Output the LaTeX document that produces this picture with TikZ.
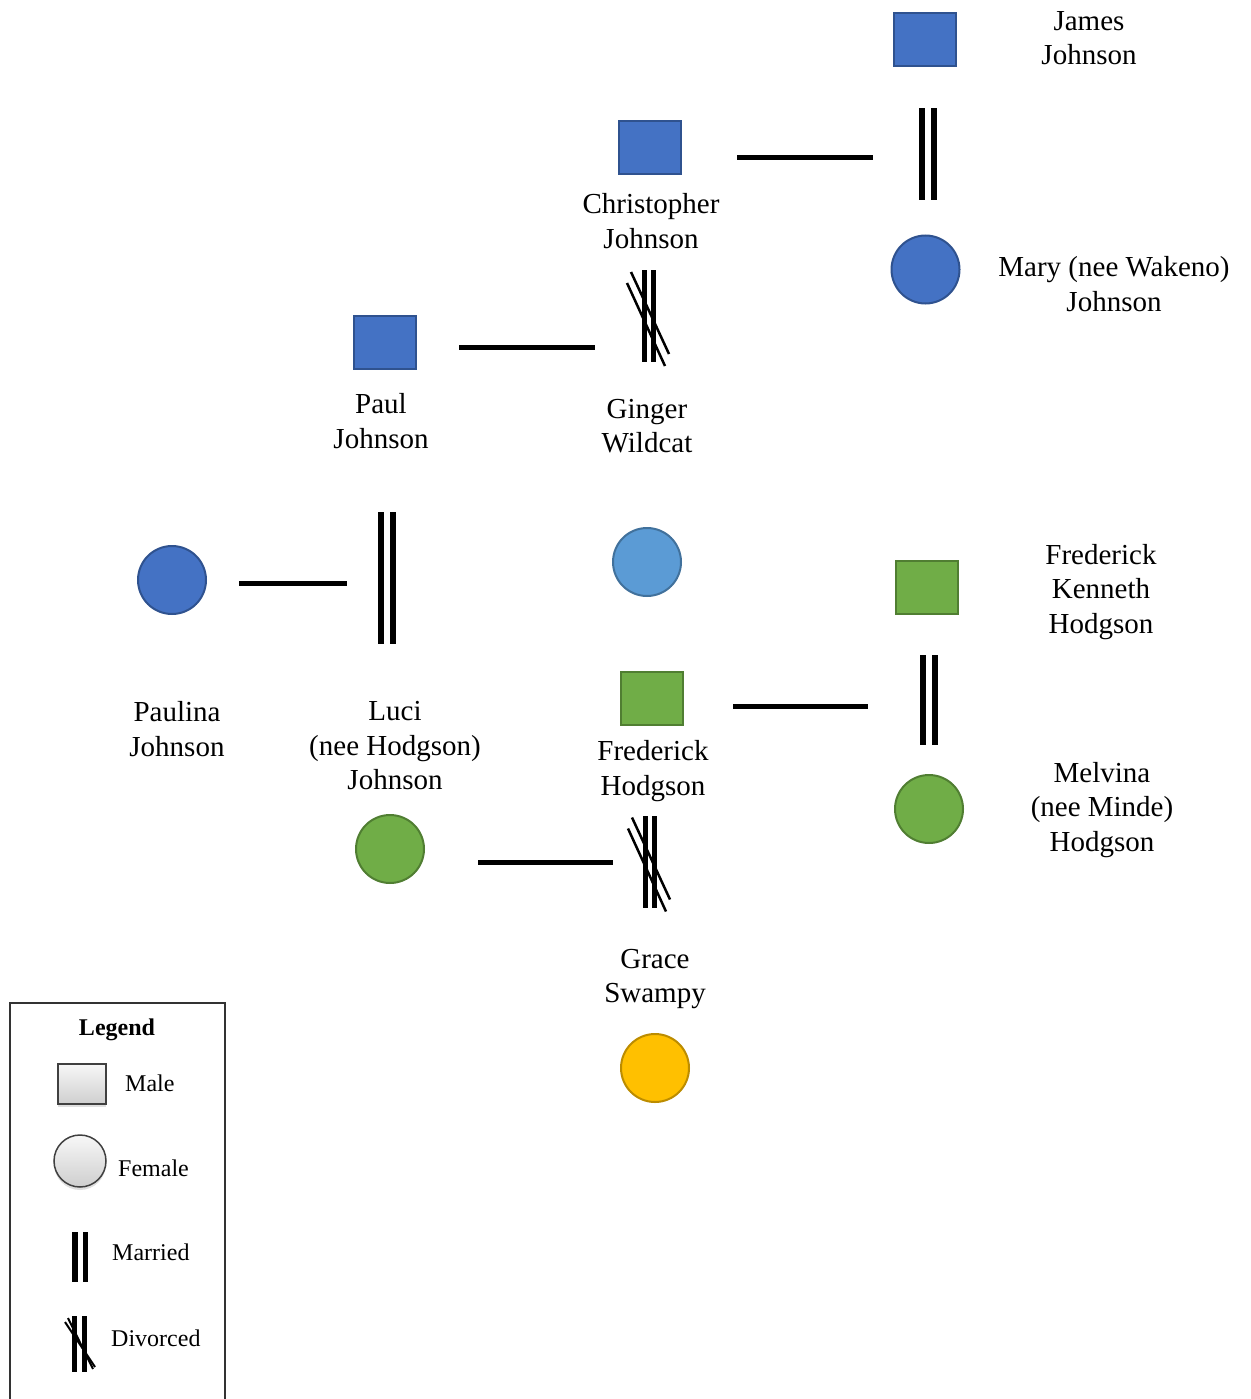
\documentclass[tikz,border=0pt]{standalone}
\usepackage{fontspec}
\setmainfont{Liberation Serif}
\usetikzlibrary{shadows}

\definecolor{jblue}{HTML}{4472C4}
\definecolor{jblueline}{HTML}{2F528F}
\definecolor{hgreen}{HTML}{70AD47}
\definecolor{hgreenline}{HTML}{507E32}
\definecolor{skyblue}{HTML}{5B9BD5}
\definecolor{skyline}{HTML}{41719C}
\definecolor{amber}{HTML}{FFC000}
\definecolor{amberline}{HTML}{BC8C00}

\begin{document}
\begin{tikzpicture}[x=1pt,y=-1pt,
  male/.style={rectangle, minimum width=62pt, minimum height=53pt, line width=2pt, inner sep=0pt},
  female/.style={circle, minimum size=68pt, line width=2pt, inner sep=0pt},
  johnson/.style={fill=jblue, draw=jblueline},
  hodgson/.style={fill=hgreen, draw=hgreenline},
  persontext/.style={align=center, inner sep=0pt, font=\fontsize{29}{34.5}\selectfont},
  bond/.style={line width=5pt},
  bar width/.store in=\barwidth, bar width=6pt,
  married/.style={rectangle, inner sep=0pt, minimum width=18pt, minimum height={#1*1pt},
    path picture={
      \fill (path picture bounding box.north west) rectangle ([xshift=\barwidth]path picture bounding box.south west);
      \fill ([xshift=-\barwidth]path picture bounding box.north east) rectangle (path picture bounding box.south east);
    }},
  divorced/.style={rectangle, inner sep=0pt, minimum width=50pt, minimum height={(#1+12)*1pt},
    path picture={
      \begin{scope}[shift={(path picture bounding box.center)}, scale=#1/92]
        \fill (-7,-46) rectangle (-2,46);
        \fill (2,-46) rectangle (7,46);
        \draw[line width=2.5pt] (-18,-44) -- (20,38);
        \draw[line width=2.5pt] (-22,-33) -- (16,50);
      \end{scope}
    }},
  divorcedkey/.style={rectangle, inner sep=0pt, minimum width=40pt, minimum height=64pt,
    path picture={
      \begin{scope}[shift={(path picture bounding box.center)}]
        \fill (-8,-28) rectangle (-3,28);
        \fill (2,-28) rectangle (7,28);
        \draw[line width=2pt] (-15,-22) -- (15,23);
        \draw[line width=2pt] (-12,-26) -- (13,25);
      \end{scope}
    }},
  keytext/.style={anchor=west, inner sep=0pt, font=\fontsize{24}{28}\selectfont},
  keyshade/.style={top color=gray!6, bottom color=gray!38, draw=black!75, line width=1.5pt,
    drop shadow={opacity=0.25, shadow xshift=0pt, shadow yshift=-3pt}},
]
\useasboundingbox (0,0) rectangle (1250,1399);

% --- Johnson family ---
\node[male, johnson] (james) at (925,40) {};
\node[persontext] (jamesT) at (1089,38) {James\\Johnson};
\node[married=92] (jamesM) at (928,154) {};
\node[female, johnson] (mary) at (925.5,269.5) {};
\node[persontext] (maryT) at (1114,284) {Mary (nee Wakeno)\\Johnson};

\node[male, johnson] (chris) at (650,148) {};
\node[persontext] (chrisT) at (651,221) {Christopher\\Johnson};
\node[divorced=92] (chrisD) at (649,316) {};
\node[persontext] (gingerT) at (647,426) {Ginger\\Wildcat};
\node[female, fill=skyblue, draw=skyline] (ginger) at (647,562) {};

\node[male, johnson] (paul) at (385,342) {};
\node[persontext] (paulT) at (381,421) {Paul\\Johnson};
\node[married=132] (paulM) at (387,578) {};

\node[female, johnson] (paulina) at (172,580) {};
\node[persontext] (paulinaT) at (177,729) {Paulina\\Johnson};

\node[persontext] (luciT) at (395,746) {Luci\\(nee Hodgson)\\Johnson};
\node[female, hodgson] (luci) at (390,849) {};

% --- Hodgson family ---
\node[male, hodgson] (fk) at (926.5,587) {};
\node[persontext] (fkT) at (1101,592) {Frederick\\Kenneth\\Hodgson};
\node[married=90] (fkM) at (929,700) {};
\node[female, hodgson] (melvina) at (929,809) {};
\node[persontext] (melvinaT) at (1102,810) {Melvina\\(nee Minde)\\Hodgson};

\node[male, hodgson] (fred) at (651.5,698) {};
\node[persontext] (fredT) at (653,771) {Frederick\\Hodgson};
\node[divorced=93] (fredD) at (650,861.5) {};
\node[persontext] (graceT) at (655,979) {Grace\\Swampy};
\node[female, fill=amber, draw=amberline] (grace) at (655,1068) {};

% --- connecting lines ---
\coordinate (chrisL) at (737,158);  \coordinate (jamesL) at (873,158);
\coordinate (paulL)  at (459,347);  \coordinate (chrisR) at (595,347);
\coordinate (paulinaL) at (239,583); \coordinate (paulR) at (347,583);
\coordinate (fredL)  at (733,706);  \coordinate (fkL)    at (868,706);
\coordinate (luciL)  at (478,862);  \coordinate (fredR)  at (613,862);
\draw[bond] (chrisL) -- (jamesL);
\draw[bond] (paulL) -- (chrisR);
\draw[bond] (paulinaL) -- (paulR);
\draw[bond] (fredL) -- (fkL);
\draw[bond] (luciL) -- (fredR);

% --- legend ---
\draw[black!80, line width=1.3pt] (10,1410) -- (10,1003) -- (225,1003) -- (225,1410);
\node[inner sep=0pt, font=\fontsize{24}{28}\selectfont\bfseries] (keyTitle) at (117,1029.5) {Legend};
\node[keyshade, rectangle, minimum width=48pt, minimum height=40pt, inner sep=0pt] (keyMale) at (82,1084) {};
\node[keytext] (keyMaleT) at (125,1083) {Male};
\node[keyshade, circle, minimum size=52pt, inner sep=0pt] (keyFemale) at (80,1161) {};
\node[keytext] (keyFemaleT) at (118,1168) {Female};
\node[married=50, minimum width=16pt, bar width=5.5pt] (keyMarried) at (80,1257) {};
\node[keytext] (keyMarriedT) at (112,1252) {Married};
\node[divorcedkey] (keyDivorced) at (80,1344) {};
\node[keytext] (keyDivorcedT) at (111,1338) {Divorced};
\end{tikzpicture}
\end{document}
